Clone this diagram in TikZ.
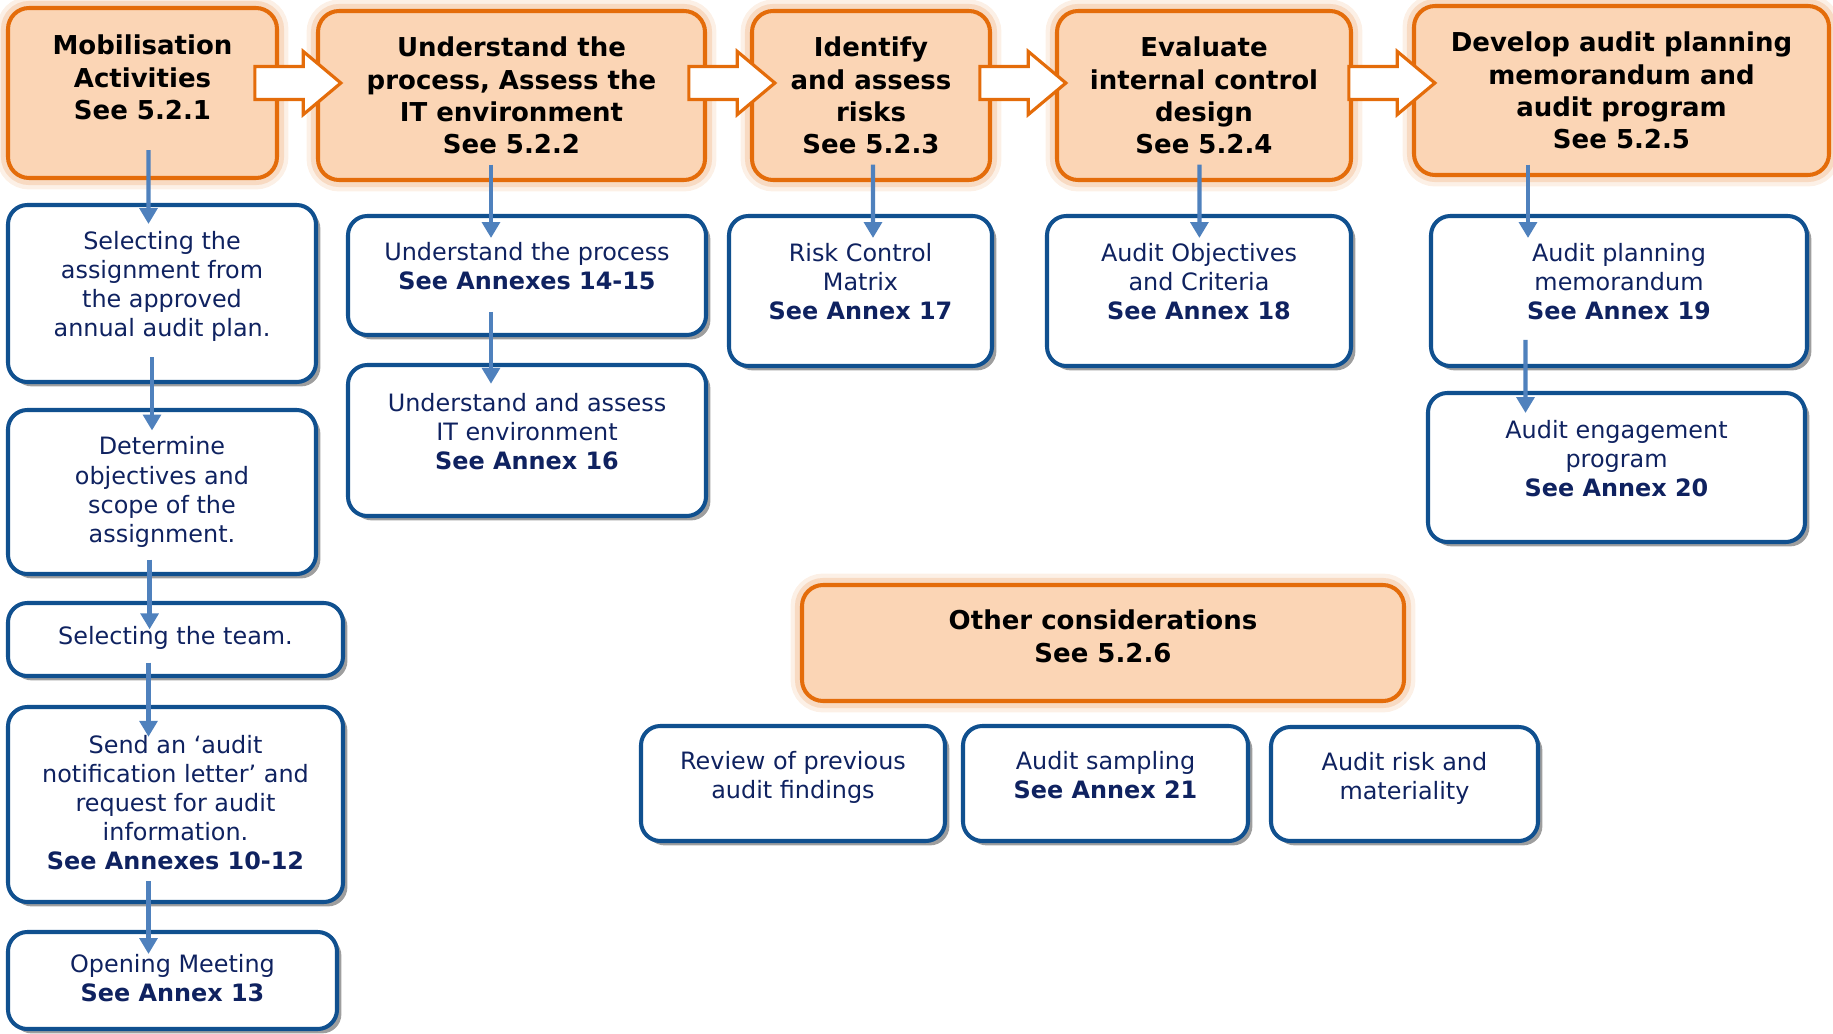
\documentclass[tikz,border=0pt]{standalone}
\usepackage{fontspec}
\setmainfont{DejaVu Sans}
\usetikzlibrary{arrows.meta,shapes.arrows,shadows}

\definecolor{stageline}{HTML}{E46C0A}
\definecolor{stagefill}{HTML}{FBD5B5}
\definecolor{itemline}{HTML}{10508F}
\definecolor{itemtext}{HTML}{0F2260}
\definecolor{flowblue}{HTML}{4F81BD}

\newcommand{\stagefont}{\fontsize{14.8}{18.4}\selectfont\bfseries}
\newcommand{\itemfont}{\fontsize{13.6}{16.6}\selectfont}
\newcommand{\lowpad}[1]{\rule[-#1]{0pt}{0pt}}

\tikzset{
  boxsize/.style 2 args={minimum width=#1*0.02cm, minimum height=#2*0.02cm},
  stage/.style={rectangle, draw=stageline, fill=stagefill, line width=2.3pt,
    rounded corners=12pt, align=center, font=\stagefont, text=black,
    preaction={draw=stageline!10, line width=13pt},
    preaction={draw=stageline!25, line width=8pt}},
  item/.style={rectangle, draw=itemline, fill=white, line width=2.3pt,
    rounded corners=11pt, align=center, font=\itemfont, text=itemtext,
    drop shadow={shadow xshift=2.5pt, shadow yshift=-2.5pt, fill=black!38, opacity=1}},
  push/.style={single arrow, draw=stageline, fill=white, line width=1.8pt,
    minimum height=1.72cm, minimum width=1.2cm, inner xsep=0pt, inner ysep=0.3cm,
    single arrow head extend=0.3cm, single arrow tip angle=80},
  flow/.style={draw=flowblue, line width=2.4pt, -{Triangle[length=9pt,width=10pt]}}
}

\begin{document}
\begin{tikzpicture}[x=0.02cm, y=-0.02cm]
  \useasboundingbox (0,0) rectangle (1833,1034);

  % main stages
  \node[stage, boxsize={269}{170}] (b1) at (142.5,93) {Mobilisation\\Activities\\See 5.2.1\lowpad{18pt}};
  \node[stage, boxsize={387}{169}] (b2) at (511.5,95.5) {Understand the\\process, Assess the\\IT environment\\See 5.2.2};
  \node[stage, boxsize={238}{169}] (b3) at (871,95.5) {Identify\\and assess\\risks\\See 5.2.3};
  \node[stage, boxsize={294}{169}] (b4) at (1204,95.5) {Evaluate\\internal control\\design\\See 5.2.4};
  \node[stage, boxsize={415}{169}] (b5) at (1621.5,90.5) {Develop audit planning\\memorandum and\\audit program\\See 5.2.5};

  \node[push] (a1) at (288,83) {};
  \node[push] (a2) at (722,83) {};
  \node[push] (a3) at (1013,83) {};
  \node[push] (a4) at (1382,83) {};

  % mobilisation steps
  \node[item, boxsize={308}{177}] (l1) at (162,293.5) {Selecting the\\assignment from\\the approved\\annual audit plan.\lowpad{10.7pt}};
  \node[item, boxsize={308}{164}] (l2) at (162,492) {Determine\\objectives and\\scope of the\\assignment.\lowpad{2.5pt}};
  \node[item, boxsize={335}{73}] (l3) at (175.5,639.5) {Selecting the team.\lowpad{5pt}};
  \node[item, boxsize={335}{195}] (l4) at (175.5,804.5) {Send an ‘audit\\notification letter’ and\\request for audit\\information.\\\textbf{See Annexes 10-12}\lowpad{2.5pt}};
  \node[item, boxsize={329}{97}] (l5) at (172.5,980.5) {Opening Meeting\\\textbf{See Annex 13}\lowpad{2.5pt}};

  % other columns
  \node[item, boxsize={358}{119}] (m1) at (527,275.5) {Understand the process\\\textbf{See Annexes 14-15}\lowpad{10.7pt}};
  \node[item, boxsize={358}{151}] (m2) at (527,440.5) {Understand and assess\\IT environment\\\textbf{See Annex 16}\lowpad{10.7pt}};
  \node[item, boxsize={263}{150}] (r1) at (860.5,291) {Risk Control\\Matrix\\\textbf{See Annex 17}\lowpad{10.7pt}};
  \node[item, boxsize={304}{150}] (o1) at (1199,291) {Audit Objectives\\and Criteria\\\textbf{See Annex 18}\lowpad{10.7pt}};
  \node[item, boxsize={376}{150}] (p1) at (1619,291) {Audit planning\\memorandum\\\textbf{See Annex 19}\lowpad{10.7pt}};
  \node[item, boxsize={377}{149}] (p2) at (1616.5,467.5) {Audit engagement\\program\\\textbf{See Annex 20}\lowpad{10.7pt}};

  % other considerations
  \node[stage, boxsize={602}{116}] (oc) at (1103,643) {Other considerations\\See 5.2.6\lowpad{8pt}};
  \node[item, boxsize={304}{115}] (c1) at (793,783.5) {Review of previous\\audit findings\lowpad{10pt}};
  \node[item, boxsize={285}{115}] (c2) at (1105.5,783.5) {Audit sampling\\\textbf{See Annex 21}\lowpad{10pt}};
  \node[item, boxsize={267}{114}] (c3) at (1404.5,784) {Audit risk and\\materiality\lowpad{9pt}};

  % connectors
  \draw[flow] ([shift={(6,-30)}]b1.south) -- ([shift={(-13.5,21)}]l1.north);
  \draw[flow] ([shift={(-20.5,-17.5)}]b2.south) -- ([shift={(-36,24)}]m1.north);
  \draw[flow] ([shift={(2,-17.5)}]b3.south) -- ([shift={(12.5,24)}]r1.north);
  \draw[flow] ([shift={(-4.6,-17.5)}]b4.south) -- ([shift={(0.4,24)}]o1.north);
  \draw[flow] ([shift={(-93.5,-12.5)}]b5.south) -- ([shift={(-91,24)}]p1.north);
  \draw[flow] ([shift={(-10,-26.6)}]l1.south) -- ([shift={(-10,22.5)}]l2.north);
  \draw[flow] ([shift={(-12.4,-16.4)}]l2.south) -- ([shift={(-25.9,28.3)}]l3.north);
  \draw[flow] ([shift={(-27,-15.5)}]l3.south) -- ([shift={(-27,31.8)}]l4.north);
  \draw[flow] ([shift={(-27,-23)}]l4.south) -- ([shift={(-24,24)}]l5.north);
  \draw[flow] ([shift={(-36,-25.2)}]m1.south) -- ([shift={(-36,20.8)}]m2.north);
  \draw[flow] ([shift={(-93.5,-28.2)}]p1.south) -- ([shift={(-91,22)}]p2.north);
\end{tikzpicture}
\end{document}
